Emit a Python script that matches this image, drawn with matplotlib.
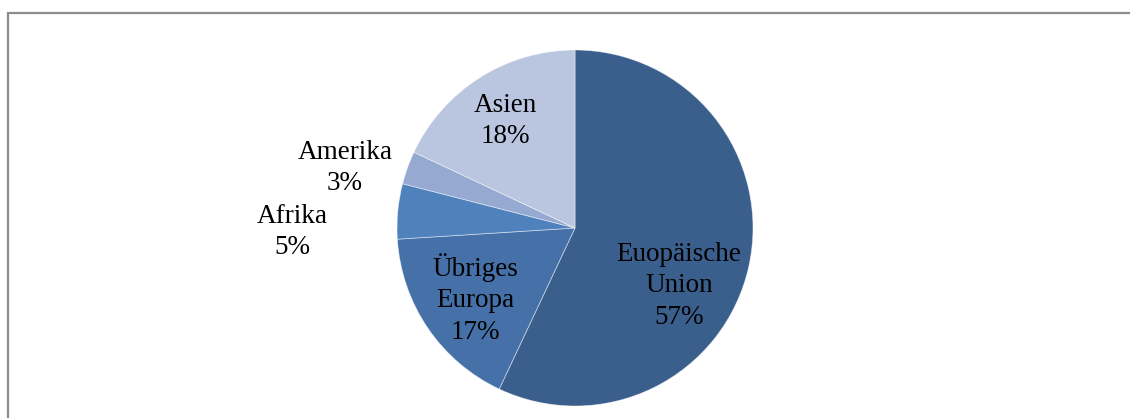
import matplotlib
matplotlib.use("Agg")
import matplotlib.pyplot as plt
from matplotlib.patches import Rectangle

categories = ["Euopäische\nUnion", "Übriges\nEuropa", "Afrika", "Amerika", "Asien"]
values = [57, 17, 5, 3, 18]
colors = ["#3B5F8C", "#4571A8", "#4F81BD", "#95A9D1", "#BAC6E0"]
# label centres in pixel coords (x, y from top)
label_pos = [(679, 286), (475, 299), (292, 232), (345, 168), (505, 121)]

W, H = 1130, 418
fig = plt.figure(figsize=(W / 100, H / 100), dpi=100)
ax = fig.add_axes([0, 0, 1, 1])
cx, cy, r = 575, H - 228, 178
ax.pie(values, colors=colors, startangle=90, counterclock=False,
       center=(cx, cy), radius=r,
       wedgeprops=dict(edgecolor=(1, 1, 1, 0.5), linewidth=0.6))
ax.set_xlim(0, W)
ax.set_ylim(0, H)
ax.set_aspect("equal")
ax.axis("off")

for cat, v, (lx, ly) in zip(categories, values, label_pos):
    ax.text(lx, H - ly, f"{cat}\n{v}%", ha="center", va="center",
            family="Liberation Serif", fontsize=19.5, color="black",
            linespacing=1.36)

ax.add_patch(Rectangle((8, -20), W + 20, H - 13 + 20, fill=False,
                       edgecolor="#8C8C8C", linewidth=1.6, clip_on=False))

fig.savefig("out.png", dpi=100)
